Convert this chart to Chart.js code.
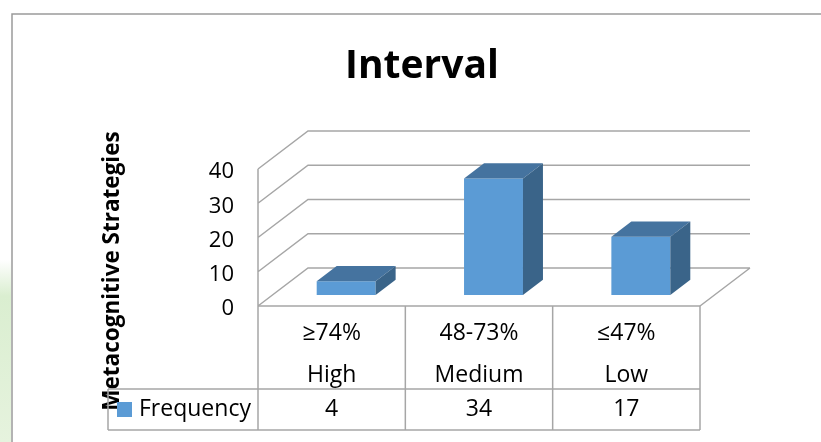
<!DOCTYPE html>
<html>
<head>
<meta charset="utf-8">
<script src="https://cdn.jsdelivr.net/npm/chart.js@4.4.0/dist/chart.umd.min.js"></script>
<style>
  html, body { margin: 0; padding: 0; background: #fff; }
  canvas { display: block; }
</style>
</head>
<body>
<canvas id="myChart" width="821" height="442"></canvas>
<script>
const ranges = ['≥74%', '48-73%', '≤47%'];
const levels = ['High', 'Medium', 'Low'];
const frequency = [4, 34, 17];
const seriesName = 'Frequency';
const chartTitle = 'Interval';
const yTitle = 'Metacognitive Strategies';
const yMax = 40;
const yStep = 10;

// fake 3d: depth of the floor and where the bars sit in it
const depth = { dx: 50, dy: -38 };
const barFront = 0.29;
const barBack = 0.69;
const lineColor = '#a6a6a6';
const font = "'Open Sans', sans-serif";

Chart.defaults.font.family = font;

const frame3d = {
      id: 'frame3d',
      beforeDraw(chart) {
            const ctx = chart.ctx;
            ctx.save();
            // bit of green page showing on the left
            const g = ctx.createLinearGradient(0, 260, 0, 442);
            g.addColorStop(0, 'rgba(218,238,208,0)');
            g.addColorStop(0.2, 'rgba(218,238,208,1)');
            g.addColorStop(1, 'rgba(230,243,222,1)');
            ctx.fillStyle = g;
            ctx.fillRect(0, 260, 11, 182);
            // chart border
            ctx.strokeStyle = '#9a9a9a';
            ctx.lineWidth = 1.5;
            ctx.beginPath();
            ctx.moveTo(12, 442);
            ctx.lineTo(12, 14);
            ctx.lineTo(821, 14);
            ctx.stroke();
            // titles
            ctx.fillStyle = '#000';
            ctx.textAlign = 'center';
            ctx.textBaseline = 'alphabetic';
            ctx.font = 'bold 39px ' + font;
            ctx.fillText(chartTitle, 422, 78);
            ctx.translate(119, 271);
            ctx.rotate(-Math.PI / 2);
            ctx.font = 'bold 22.5px ' + font;
            ctx.fillText(yTitle, 0, 0);
            ctx.restore();
      },
      beforeDatasetsDraw(chart) {
            const ctx = chart.ctx;
            const { left, right, top, bottom } = chart.chartArea;
            const yScale = chart.scales.y;
            ctx.save();
            ctx.strokeStyle = lineColor;
            ctx.lineWidth = 1.5;
            ctx.beginPath();
            yScale.ticks.forEach(t => {
                  const y = yScale.getPixelForValue(t.value);
                  ctx.moveTo(left, y);
                  ctx.lineTo(left + depth.dx, y + depth.dy);
                  ctx.lineTo(right + depth.dx, y + depth.dy);
            });
            // floor right edge and left wall edge
            ctx.moveTo(right, bottom);
            ctx.lineTo(right + depth.dx, bottom + depth.dy);
            ctx.moveTo(left, top);
            ctx.lineTo(left, bottom);
            ctx.stroke();
            ctx.restore();
      },
      beforeDatasetDraw(chart) {
            chart.ctx.save();
            chart.ctx.translate(depth.dx * barFront, depth.dy * barFront);
      },
      afterDatasetDraw(chart, args) {
            const ctx = chart.ctx;
            ctx.restore();
            const ox = depth.dx * barFront, oy = depth.dy * barFront;
            const bx = depth.dx * (barBack - barFront), by = depth.dy * (barBack - barFront);
            args.meta.data.forEach(bar => {
                  const p = bar.getProps(['x', 'y', 'base', 'width'], true);
                  const x0 = p.x - p.width / 2 + ox, x1 = p.x + p.width / 2 + ox;
                  const yt = p.y + oy, yb = p.base + oy;
                  // top
                  ctx.fillStyle = '#45739f';
                  ctx.beginPath();
                  ctx.moveTo(x0, yt);
                  ctx.lineTo(x0 + bx, yt + by);
                  ctx.lineTo(x1 + bx, yt + by);
                  ctx.lineTo(x1, yt);
                  ctx.closePath();
                  ctx.fill();
                  // side
                  ctx.fillStyle = '#3a6489';
                  ctx.beginPath();
                  ctx.moveTo(x1, yt);
                  ctx.lineTo(x1 + bx, yt + by);
                  ctx.lineTo(x1 + bx, yb + by);
                  ctx.lineTo(x1, yb);
                  ctx.closePath();
                  ctx.fill();
            });
      },
      afterDraw(chart) {
            // data table under the plot
            const ctx = chart.ctx;
            const { left, right, bottom } = chart.chartArea;
            const xScale = chart.scales.x;
            const cw = (right - left) / ranges.length;
            const rowTop = bottom + 83, rowBottom = bottom + 124;
            const tableLeft = 108;
            ctx.save();
            ctx.strokeStyle = lineColor;
            ctx.lineWidth = 1.5;
            ctx.beginPath();
            ctx.moveTo(left, bottom);
            ctx.lineTo(right, bottom);
            for (let i = 0; i <= ranges.length; i++) {
                  ctx.moveTo(left + cw * i, bottom);
                  ctx.lineTo(left + cw * i, rowBottom);
            }
            ctx.moveTo(tableLeft, rowTop);
            ctx.lineTo(right, rowTop);
            ctx.moveTo(tableLeft, rowBottom);
            ctx.lineTo(right, rowBottom);
            ctx.moveTo(tableLeft, rowTop);
            ctx.lineTo(tableLeft, rowBottom);
            ctx.stroke();

            ctx.fillStyle = '#000';
            ctx.font = '23px ' + font;
            ctx.textAlign = 'center';
            ctx.textBaseline = 'alphabetic';
            const ds = chart.data.datasets[0];
            chart.data.labels.forEach((lab, i) => {
                  const x = xScale.getPixelForValue(i);
                  ctx.fillText(lab[0], x, bottom + 34);
                  ctx.fillText(lab[1], x, bottom + 76);
                  ctx.fillText(String(ds.data[i]), x, rowBottom - 14);
            });
            ctx.fillStyle = ds.backgroundColor;
            ctx.fillRect(117, rowTop + 13, 15, 15);
            ctx.fillStyle = '#000';
            ctx.textAlign = 'left';
            ctx.fillText(ds.label, 139, rowBottom - 14);
            ctx.restore();
      }
};

const chartInstance = new Chart(document.getElementById('myChart'), {
      type: 'bar',
      data: {
            labels: ranges.map((r, i) => [r, levels[i]]),
            datasets: [{
                  label: seriesName,
                  data: frequency,
                  backgroundColor: '#5b9bd5',
                  borderWidth: 0,
                  clip: false,
                  barPercentage: 0.4,
                  categoryPercentage: 1
            }]
      },
      options: {
            responsive: false,
            animation: false,
            layout: {
                  padding: { left: 0, right: 121, top: 169, bottom: 136 }
            },
            plugins: {
                  legend: { display: false },
                  title: { display: false },
                  tooltip: { enabled: false }
            },
            scales: {
                  x: { display: false },
                  y: {
                        min: 0,
                        max: yMax,
                        afterFit(scale) { scale.width = 258; },
                        ticks: { stepSize: yStep, padding: 24, labelOffset: 3, color: '#000', font: { size: 22 } },
                        grid: { display: false, drawTicks: false },
                        border: { display: false }
                  }
            }
      },
      plugins: [frame3d]
});
</script>
</body>
</html>
